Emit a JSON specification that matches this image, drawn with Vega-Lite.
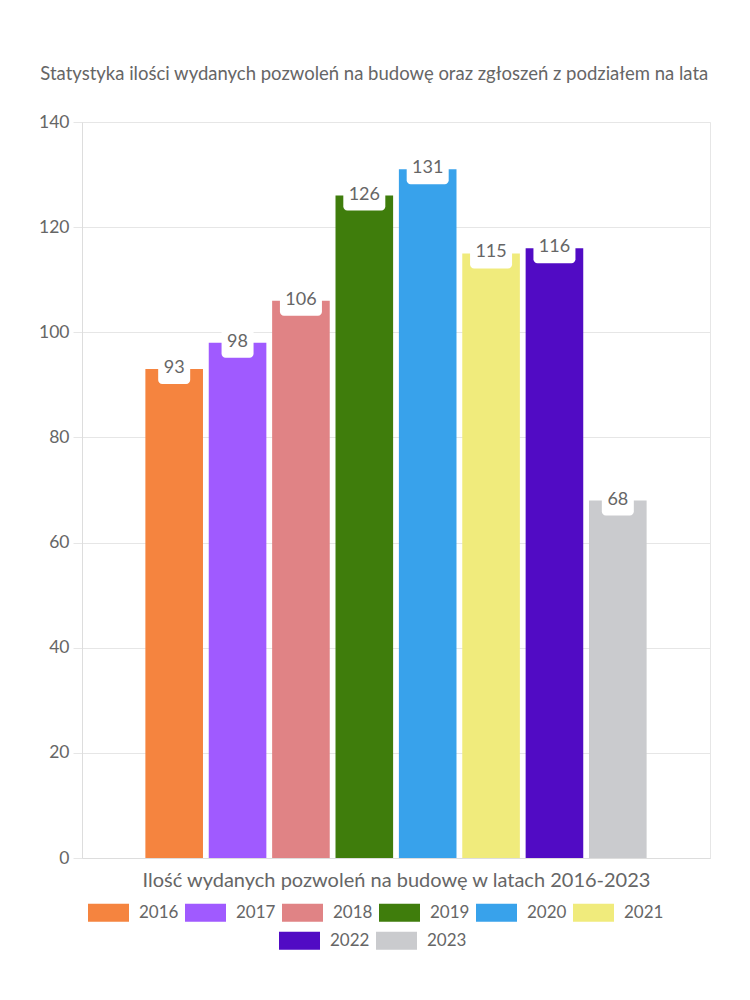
{
  "$schema": "https://vega.github.io/schema/vega-lite/v6.json",
  "width": 628,
  "height": 736,
  "autosize": {"type": "none"},
  "padding": {"left": 82, "top": 122, "right": 40, "bottom": 142},
  "background": "white",
  "title": {
    "text": "Statystyka ilości wydanych pozwoleń na budowę oraz zgłoszeń z podziałem na lata",
    "font": "Lato",
    "fontSize": 18.5,
    "fontWeight": "normal",
    "color": "#666666",
    "anchor": "middle",
    "frame": "bounds",
    "offset": 30
  },
  "data": {
    "values": [
      {"year": "2016", "value": 93},
      {"year": "2017", "value": 98},
      {"year": "2018", "value": 106},
      {"year": "2019", "value": 126},
      {"year": "2020", "value": 131},
      {"year": "2021", "value": 115},
      {"year": "2022", "value": 116},
      {"year": "2023", "value": 68}
    ]
  },
  "encoding": {
    "x": {
      "field": "year",
      "type": "nominal",
      "scale": {"paddingInner": 0.091, "paddingOuter": 1.08},
      "axis": {
        "title": "Ilość wydanych pozwoleń na budowę w latach 2016-2023",
        "labels": false,
        "ticks": false,
        "domain": true,
        "domainColor": "#dddddd",
        "titleFont": "Lato",
        "titleFontSize": 20,
        "titleFontWeight": "normal",
        "titleColor": "#666666",
        "titlePadding": 12
      }
    },
    "y": {
      "field": "value",
      "type": "quantitative",
      "scale": {"domain": [0, 140], "nice": false},
      "axis": {
        "title": null,
        "values": [0, 20, 40, 60, 80, 100, 120, 140],
        "grid": true,
        "gridColor": "#e6e6e6",
        "tickColor": "#e6e6e6",
        "tickSize": 9,
        "domainColor": "#dddddd",
        "labelFont": "Lato",
        "labelFontSize": 17.5,
        "labelColor": "#666666",
        "labelPadding": 4
      }
    }
  },
  "layer": [
    {
      "transform": [{"filter": "toNumber(datum.year) <= 2021"}],
      "mark": {"type": "bar"},
      "encoding": {
        "color": {
          "field": "year",
          "type": "nominal",
          "scale": {
            "domain": ["2016", "2017", "2018", "2019", "2020", "2021"],
            "range": ["#F5843F", "#A05AFF", "#E08385", "#3F7D0C", "#38A2EB", "#F0EB7C"]
          },
          "legend": {
            "title": null,
            "orient": "none",
            "legendX": 6,
            "legendY": 770,
            "direction": "horizontal",
            "symbolType": "M-1,-0.439H1V0.439H-1Z",
            "symbolSize": 1681,
            "symbolStrokeWidth": 0,
            "symbolOpacity": 1,
            "labelFont": "Lato",
            "labelFontSize": 17,
            "labelColor": "#666666",
            "labelOffset": 10,
            "columnPadding": 6,
            "padding": 0
          }
        }
      }
    },
    {
      "transform": [{"filter": "toNumber(datum.year) >= 2022"}],
      "mark": {"type": "bar"},
      "encoding": {
        "fill": {
          "field": "year",
          "type": "nominal",
          "scale": {
            "domain": ["2022", "2023"],
            "range": ["#510BC4", "#CACBCE"]
          },
          "legend": {
            "title": null,
            "orient": "none",
            "legendX": 197,
            "legendY": 798,
            "direction": "horizontal",
            "symbolType": "M-1,-0.439H1V0.439H-1Z",
            "symbolSize": 1681,
            "symbolStrokeWidth": 0,
            "symbolOpacity": 1,
            "labelFont": "Lato",
            "labelFontSize": 17,
            "labelColor": "#666666",
            "labelOffset": 10,
            "columnPadding": 6,
            "padding": 0
          }
        }
      }
    },
    {
      "transform": [{"filter": "datum.value < 100"}],
      "mark": {"type": "bar", "width": 32, "fill": "white", "cornerRadius": 4, "yOffset": -15, "y2Offset": 15},
      "encoding": {"y2": {"field": "value"}}
    },
    {
      "transform": [{"filter": "datum.value >= 100"}],
      "mark": {"type": "bar", "width": 42, "fill": "white", "cornerRadius": 4, "yOffset": -15, "y2Offset": 15},
      "encoding": {"y2": {"field": "value"}}
    },
    {
      "mark": {"type": "text", "font": "Lato", "fontSize": 18, "fill": "#666666", "baseline": "middle", "dy": -1},
      "encoding": {"text": {"field": "value", "type": "quantitative"}}
    }
  ],
  "config": {
    "view": {"stroke": "#e6e6e6"},
    "axis": {"domainColor": "#dddddd"}
  }
}
